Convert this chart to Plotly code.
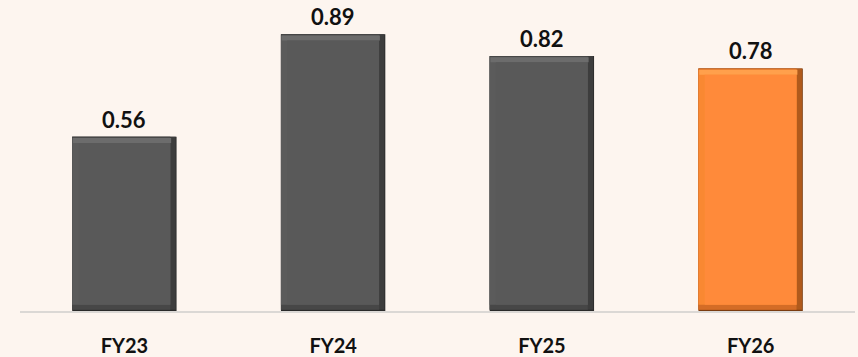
import plotly.graph_objects as go

categories = ["FY23", "FY24", "FY25", "FY26"]
values = [0.56, 0.89, 0.82, 0.78]
labels = ["0.56", "0.89", "0.82", "0.78"]

# bevel palette per bar: face, left, top highlight, right/outline, bottom
face_colors = ["#595959", "#595959", "#595959", "#FF8A3A"]
left_colors = ["#5b5b5b", "#5b5b5b", "#5b5b5b", "#F98832"]
top_colors = ["#6c6c6c", "#6c6c6c", "#6c6c6c", "#FFA04C"]
right_colors = ["#3d3d3d", "#3d3d3d", "#3d3d3d", "#B05A1C"]
outline_colors = ["#2a2a2a", "#2a2a2a", "#2a2a2a", "#7a3c10"]
bottom_colors = ["#474747", "#474747", "#474747", "#D46C26"]

bg = "#FDF5EF"
W = 0.50      # bar width (category units)
BX = 0.03     # side bevel (category units)
BY = 0.02     # top/bottom bevel (data units)
E = 0.004     # thin outline

fig = go.Figure()
# thin dark outline
fig.add_trace(go.Bar(x=categories, y=values, width=W, offset=-W / 2,
                     marker=dict(color=outline_colors, line=dict(width=0)), hoverinfo="skip"))
# right bevel
fig.add_trace(go.Bar(x=categories, y=[v - E for v in values], base=E, width=W - E, offset=-W / 2,
                     marker=dict(color=right_colors, line=dict(width=0)), hoverinfo="skip"))
# bottom bevel
fig.add_trace(go.Bar(x=categories, y=[v - E for v in values], base=E, width=W - BX, offset=-W / 2,
                     marker=dict(color=bottom_colors, line=dict(width=0)), hoverinfo="skip"))
# left bevel
fig.add_trace(go.Bar(x=categories, y=[v - E - BY for v in values], base=BY, width=W - BX, offset=-W / 2,
                     marker=dict(color=left_colors, line=dict(width=0)), hoverinfo="skip"))
# top highlight
fig.add_trace(go.Bar(x=categories, y=[BY - E for v in values], base=[v - BY for v in values],
                     width=W - BX, offset=-W / 2 + E,
                     marker=dict(color=top_colors, line=dict(width=0)), hoverinfo="skip"))
# face
fig.add_trace(go.Bar(x=categories, y=[v - 2 * BY for v in values], base=BY, width=W - 2 * BX, offset=-W / 2 + BX,
                     marker=dict(color=face_colors, line=dict(width=0)), hoverinfo="skip"))

for c, v, t in zip(categories, values, labels):
    fig.add_annotation(x=c, y=v, text=f"<b>{t}</b>", showarrow=False,
                       yanchor="bottom", yshift=2,
                       font=dict(family="Lato, Open Sans, sans-serif", size=22, color="#111111"))

fig.update_layout(
    width=858, height=357,
    margin=dict(l=20, r=3, t=0, b=43),
    paper_bgcolor=bg, plot_bgcolor=bg,
    barmode="overlay",
    showlegend=False,
    xaxis=dict(
        showgrid=False, showline=True, linecolor="#dbd8d5", linewidth=2,
        ticks="outside", ticklen=16, tickcolor="rgba(0,0,0,0)",
        tickfont=dict(family="Lato, Open Sans, sans-serif", size=20, color="#111111"),
        tickvals=categories, ticktext=[f"<b>{c}</b>" for c in categories],
    ),
    yaxis=dict(range=[0, 1.0], visible=False, showgrid=False),
)

fig.write_html("out.html", config={"displayModeBar": False},
               post_script=f"document.body.style.margin='0';document.body.style.background='{bg}';")
